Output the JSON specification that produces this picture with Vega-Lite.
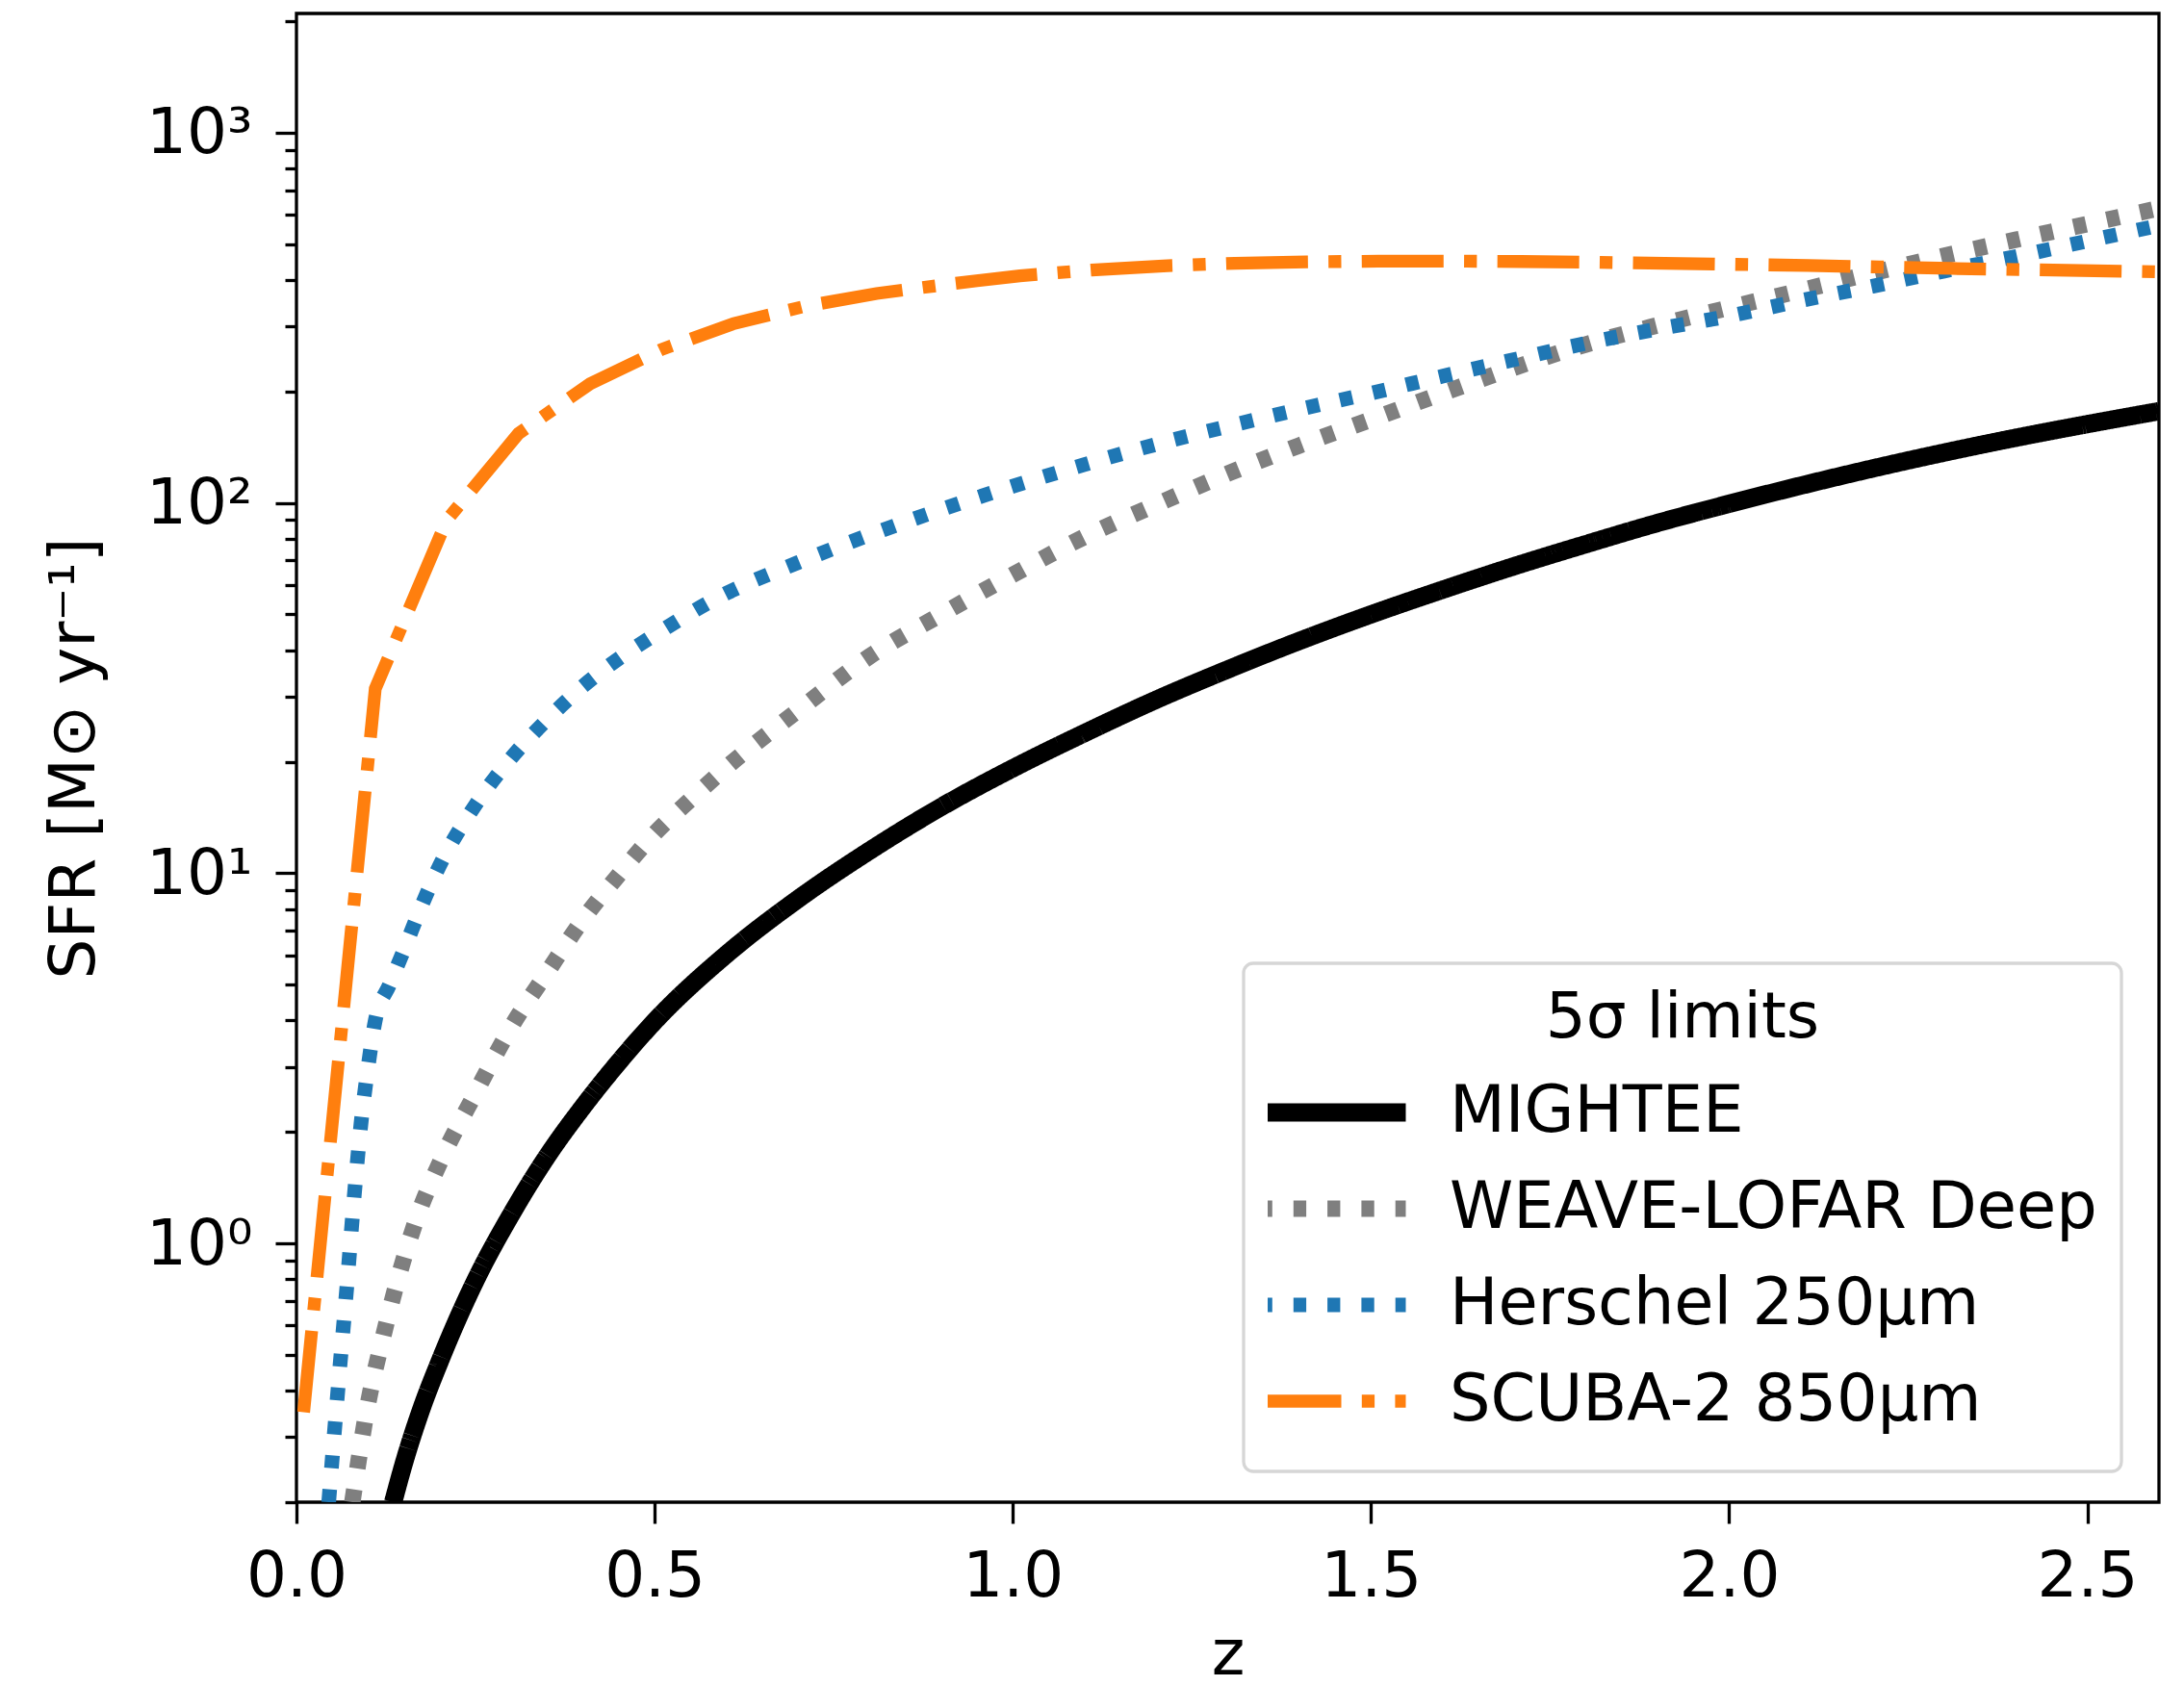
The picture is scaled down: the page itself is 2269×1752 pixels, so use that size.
{
  "$schema": "https://vega.github.io/schema/vega-lite/v6.json",
  "width": 1935,
  "height": 1547,
  "autosize": {"type": "none"},
  "padding": {"left": 308, "top": 14, "right": 26, "bottom": 191},
  "background": "white",
  "data": {"values": [
    {"series": "MIGHTEE", "z": 0.135, "sfr": 0.2},
    {"series": "MIGHTEE", "z": 0.15, "sfr": 0.255},
    {"series": "MIGHTEE", "z": 0.175, "sfr": 0.36},
    {"series": "MIGHTEE", "z": 0.2, "sfr": 0.48},
    {"series": "MIGHTEE", "z": 0.25, "sfr": 0.795},
    {"series": "MIGHTEE", "z": 0.3, "sfr": 1.2},
    {"series": "MIGHTEE", "z": 0.35, "sfr": 1.72},
    {"series": "MIGHTEE", "z": 0.4, "sfr": 2.34},
    {"series": "MIGHTEE", "z": 0.45, "sfr": 3.09},
    {"series": "MIGHTEE", "z": 0.5, "sfr": 3.98},
    {"series": "MIGHTEE", "z": 0.6, "sfr": 6.03},
    {"series": "MIGHTEE", "z": 0.7, "sfr": 8.51},
    {"series": "MIGHTEE", "z": 0.8, "sfr": 11.5},
    {"series": "MIGHTEE", "z": 0.9, "sfr": 15.1},
    {"series": "MIGHTEE", "z": 1.0, "sfr": 19.2},
    {"series": "MIGHTEE", "z": 1.1, "sfr": 23.9},
    {"series": "MIGHTEE", "z": 1.2, "sfr": 29.4},
    {"series": "MIGHTEE", "z": 1.3, "sfr": 35.5},
    {"series": "MIGHTEE", "z": 1.4, "sfr": 42.4},
    {"series": "MIGHTEE", "z": 1.5, "sfr": 50.0},
    {"series": "MIGHTEE", "z": 1.6, "sfr": 58.3},
    {"series": "MIGHTEE", "z": 1.7, "sfr": 67.5},
    {"series": "MIGHTEE", "z": 1.8, "sfr": 77.4},
    {"series": "MIGHTEE", "z": 1.9, "sfr": 88.3},
    {"series": "MIGHTEE", "z": 2.0, "sfr": 99.5},
    {"series": "MIGHTEE", "z": 2.1, "sfr": 111.4},
    {"series": "MIGHTEE", "z": 2.2, "sfr": 123.9},
    {"series": "MIGHTEE", "z": 2.3, "sfr": 136.8},
    {"series": "MIGHTEE", "z": 2.4, "sfr": 150},
    {"series": "MIGHTEE", "z": 2.5, "sfr": 163.3},
    {"series": "MIGHTEE", "z": 2.6, "sfr": 177},
    {"series": "WEAVE-LOFAR Deep", "z": 0.078, "sfr": 0.2},
    {"series": "WEAVE-LOFAR Deep", "z": 0.1, "sfr": 0.37},
    {"series": "WEAVE-LOFAR Deep", "z": 0.12, "sfr": 0.55},
    {"series": "WEAVE-LOFAR Deep", "z": 0.14, "sfr": 0.78},
    {"series": "WEAVE-LOFAR Deep", "z": 0.17, "sfr": 1.2},
    {"series": "WEAVE-LOFAR Deep", "z": 0.2, "sfr": 1.65},
    {"series": "WEAVE-LOFAR Deep", "z": 0.25, "sfr": 2.55},
    {"series": "WEAVE-LOFAR Deep", "z": 0.3, "sfr": 3.85},
    {"series": "WEAVE-LOFAR Deep", "z": 0.35, "sfr": 5.4},
    {"series": "WEAVE-LOFAR Deep", "z": 0.4, "sfr": 7.5},
    {"series": "WEAVE-LOFAR Deep", "z": 0.45, "sfr": 9.9},
    {"series": "WEAVE-LOFAR Deep", "z": 0.5, "sfr": 12.8},
    {"series": "WEAVE-LOFAR Deep", "z": 0.55, "sfr": 15.8},
    {"series": "WEAVE-LOFAR Deep", "z": 0.6, "sfr": 19.3},
    {"series": "WEAVE-LOFAR Deep", "z": 0.7, "sfr": 27.5},
    {"series": "WEAVE-LOFAR Deep", "z": 0.8, "sfr": 38.5},
    {"series": "WEAVE-LOFAR Deep", "z": 0.9, "sfr": 50},
    {"series": "WEAVE-LOFAR Deep", "z": 1.0, "sfr": 64},
    {"series": "WEAVE-LOFAR Deep", "z": 1.1, "sfr": 81},
    {"series": "WEAVE-LOFAR Deep", "z": 1.2, "sfr": 99},
    {"series": "WEAVE-LOFAR Deep", "z": 1.3, "sfr": 120},
    {"series": "WEAVE-LOFAR Deep", "z": 1.4, "sfr": 143},
    {"series": "WEAVE-LOFAR Deep", "z": 1.5, "sfr": 168},
    {"series": "WEAVE-LOFAR Deep", "z": 1.6, "sfr": 198},
    {"series": "WEAVE-LOFAR Deep", "z": 1.7, "sfr": 232},
    {"series": "WEAVE-LOFAR Deep", "z": 1.8, "sfr": 268},
    {"series": "WEAVE-LOFAR Deep", "z": 1.9, "sfr": 302},
    {"series": "WEAVE-LOFAR Deep", "z": 2.0, "sfr": 337},
    {"series": "WEAVE-LOFAR Deep", "z": 2.1, "sfr": 375},
    {"series": "WEAVE-LOFAR Deep", "z": 2.2, "sfr": 418},
    {"series": "WEAVE-LOFAR Deep", "z": 2.3, "sfr": 465},
    {"series": "WEAVE-LOFAR Deep", "z": 2.4, "sfr": 514},
    {"series": "WEAVE-LOFAR Deep", "z": 2.5, "sfr": 567},
    {"series": "WEAVE-LOFAR Deep", "z": 2.6, "sfr": 625},
    {"series": "Herschel 250μm", "z": 0.045, "sfr": 0.2},
    {"series": "Herschel 250μm", "z": 0.06, "sfr": 0.45},
    {"series": "Herschel 250μm", "z": 0.07, "sfr": 0.75},
    {"series": "Herschel 250μm", "z": 0.08, "sfr": 1.3},
    {"series": "Herschel 250μm", "z": 0.09, "sfr": 2.1},
    {"series": "Herschel 250μm", "z": 0.1, "sfr": 3.0},
    {"series": "Herschel 250μm", "z": 0.11, "sfr": 4.0},
    {"series": "Herschel 250μm", "z": 0.13, "sfr": 5.0},
    {"series": "Herschel 250μm", "z": 0.15, "sfr": 6.2},
    {"series": "Herschel 250μm", "z": 0.175, "sfr": 8.2},
    {"series": "Herschel 250μm", "z": 0.2, "sfr": 10.5},
    {"series": "Herschel 250μm", "z": 0.25, "sfr": 15.3},
    {"series": "Herschel 250μm", "z": 0.3, "sfr": 20.5},
    {"series": "Herschel 250μm", "z": 0.35, "sfr": 26},
    {"series": "Herschel 250μm", "z": 0.4, "sfr": 32},
    {"series": "Herschel 250μm", "z": 0.45, "sfr": 38},
    {"series": "Herschel 250μm", "z": 0.5, "sfr": 44},
    {"series": "Herschel 250μm", "z": 0.6, "sfr": 57},
    {"series": "Herschel 250μm", "z": 0.7, "sfr": 69},
    {"series": "Herschel 250μm", "z": 0.8, "sfr": 82},
    {"series": "Herschel 250μm", "z": 0.9, "sfr": 96},
    {"series": "Herschel 250μm", "z": 1.0, "sfr": 111},
    {"series": "Herschel 250μm", "z": 1.1, "sfr": 127},
    {"series": "Herschel 250μm", "z": 1.2, "sfr": 144},
    {"series": "Herschel 250μm", "z": 1.3, "sfr": 161},
    {"series": "Herschel 250μm", "z": 1.4, "sfr": 179},
    {"series": "Herschel 250μm", "z": 1.5, "sfr": 198},
    {"series": "Herschel 250μm", "z": 1.6, "sfr": 220},
    {"series": "Herschel 250μm", "z": 1.7, "sfr": 244},
    {"series": "Herschel 250μm", "z": 1.8, "sfr": 270},
    {"series": "Herschel 250μm", "z": 1.9, "sfr": 295},
    {"series": "Herschel 250μm", "z": 2.0, "sfr": 320},
    {"series": "Herschel 250μm", "z": 2.1, "sfr": 352},
    {"series": "Herschel 250μm", "z": 2.2, "sfr": 385},
    {"series": "Herschel 250μm", "z": 2.3, "sfr": 423},
    {"series": "Herschel 250μm", "z": 2.4, "sfr": 463},
    {"series": "Herschel 250μm", "z": 2.5, "sfr": 510},
    {"series": "Herschel 250μm", "z": 2.6, "sfr": 562},
    {"series": "SCUBA-2 850μm", "z": 0.01, "sfr": 0.35},
    {"series": "SCUBA-2 850μm", "z": 0.11, "sfr": 31.5},
    {"series": "SCUBA-2 850μm", "z": 0.21, "sfr": 90},
    {"series": "SCUBA-2 850μm", "z": 0.31, "sfr": 154},
    {"series": "SCUBA-2 850μm", "z": 0.41, "sfr": 210},
    {"series": "SCUBA-2 850μm", "z": 0.51, "sfr": 260},
    {"series": "SCUBA-2 850μm", "z": 0.61, "sfr": 305},
    {"series": "SCUBA-2 850μm", "z": 0.71, "sfr": 340},
    {"series": "SCUBA-2 850μm", "z": 0.81, "sfr": 368},
    {"series": "SCUBA-2 850μm", "z": 0.91, "sfr": 390},
    {"series": "SCUBA-2 850μm", "z": 1.01, "sfr": 411},
    {"series": "SCUBA-2 850μm", "z": 1.11, "sfr": 426},
    {"series": "SCUBA-2 850μm", "z": 1.21, "sfr": 437},
    {"series": "SCUBA-2 850μm", "z": 1.31, "sfr": 444},
    {"series": "SCUBA-2 850μm", "z": 1.41, "sfr": 448},
    {"series": "SCUBA-2 850μm", "z": 1.51, "sfr": 450},
    {"series": "SCUBA-2 850μm", "z": 1.61, "sfr": 450},
    {"series": "SCUBA-2 850μm", "z": 1.71, "sfr": 449},
    {"series": "SCUBA-2 850μm", "z": 1.81, "sfr": 447},
    {"series": "SCUBA-2 850μm", "z": 1.91, "sfr": 444},
    {"series": "SCUBA-2 850μm", "z": 2.01, "sfr": 441},
    {"series": "SCUBA-2 850μm", "z": 2.11, "sfr": 438},
    {"series": "SCUBA-2 850μm", "z": 2.21, "sfr": 434},
    {"series": "SCUBA-2 850μm", "z": 2.31, "sfr": 430},
    {"series": "SCUBA-2 850μm", "z": 2.41, "sfr": 427},
    {"series": "SCUBA-2 850μm", "z": 2.51, "sfr": 424},
    {"series": "SCUBA-2 850μm", "z": 2.6, "sfr": 421}
  ]},
  "encoding": {
    "x": {
      "field": "z", "type": "quantitative",
      "scale": {"domain": [0, 2.6], "nice": false, "zero": false},
      "axis": {
        "values": [0, 0.5, 1, 1.5, 2, 2.5],
        "format": ".1f",
        "title": "z",
        "titleY": 178,
        "titleBaseline": "alphabetic",
        "tickSize": 22,
        "labelPadding": 23
      }
    },
    "y": {
      "field": "sfr", "type": "quantitative",
      "scale": {"type": "log", "domain": [0.2, 2100], "nice": false},
      "axis": {
        "values": [0.2, 0.3, 0.4, 0.5, 0.6, 0.7, 0.8, 0.9, 1, 2, 3, 4, 5, 6, 7, 8, 9, 10, 20, 30, 40, 50, 60, 70, 80, 90, 100, 200, 300, 400, 500, 600, 700, 800, 900, 1000, 2000],
        "labelExpr": "datum.value === 1000 ? '10³' : datum.value === 100 ? '10²' : datum.value === 10 ? '10¹' : datum.value === 1 ? '10⁰' : ''",
        "tickSize": {"condition": {"test": "indexof([1, 10, 100, 1000], datum.value) >= 0", "value": 22}, "value": 12},
        "labelPadding": 24,
        "labelOffset": 1,
        "title": "SFR [M⊙ yr⁻¹]",
        "titleAngle": 270,
        "titleBaseline": "alphabetic",
        "titleAlign": "center",
        "titleX": -211,
        "titleY": 773.5
      }
    },
    "color": {
      "field": "series", "type": "nominal",
      "scale": {"domain": ["MIGHTEE", "WEAVE-LOFAR Deep", "Herschel 250μm", "SCUBA-2 850μm"], "range": ["#000000", "#7f7f7f", "#1f77b4", "#ff7f0e"]},
      "legend": {"title": "5σ limits"}
    },
    "strokeDash": {
      "field": "series", "type": "nominal",
      "scale": {"domain": ["MIGHTEE", "WEAVE-LOFAR Deep", "Herschel 250μm", "SCUBA-2 850μm"], "range": [[1, 0], [13.3, 22], [13.3, 22], [85, 21.3, 13.3, 21.3]]},
      "legend": {"title": "5σ limits"}
    },
    "strokeWidth": {
      "field": "series", "type": "nominal",
      "scale": {"domain": ["MIGHTEE", "WEAVE-LOFAR Deep", "Herschel 250μm", "SCUBA-2 850μm"], "range": [19, 13.3, 13.3, 13.3]},
      "legend": {"title": "5σ limits"}
    }
  },
  "layer": [
    {
      "transform": [{"filter": "datum.series !== 'SCUBA-2 850μm'"}],
      "mark": {"type": "line", "interpolate": "monotone", "clip": true}
    },
    {
      "transform": [{"filter": "datum.series === 'SCUBA-2 850μm'"}],
      "mark": {"type": "line", "clip": true}
    }
  ],
  "config": {
    "font": "DejaVu Sans",
    "view": {"stroke": "#000000", "strokeWidth": 3.3},
    "axis": {
      "domain": false,
      "grid": false,
      "ticks": true,
      "tickColor": "#000000",
      "tickWidth": 3.3,
      "labelFont": "DejaVu Sans",
      "labelFontSize": 66,
      "labelColor": "#000000",
      "labelOverlap": false,
      "labelFlush": false,
      "titleFont": "DejaVu Sans",
      "titleFontSize": 66,
      "titleFontWeight": "normal",
      "titleColor": "#000000"
    },
    "legend": {
      "orient": "none",
      "legendX": 984,
      "legendY": 987,
      "padding": 25,
      "strokeColor": "#d6d6d6",
      "strokeWidth": 3.3,
      "fillColor": "#ffffff",
      "cornerRadius": 10,
      "titleFont": "DejaVu Sans",
      "titleFontSize": 66,
      "titleFontWeight": "normal",
      "titleColor": "#000000",
      "titleAnchor": "middle",
      "titlePadding": 16,
      "titleLimit": 2000,
      "labelFont": "DejaVu Sans",
      "labelFontSize": 67,
      "labelColor": "#000000",
      "labelLimit": 2000,
      "labelOffset": 36,
      "symbolOffset": -18,
      "symbolType": "stroke",
      "symbolSize": 23104,
      "clipHeight": 96,
      "rowPadding": 4
    }
  }
}
